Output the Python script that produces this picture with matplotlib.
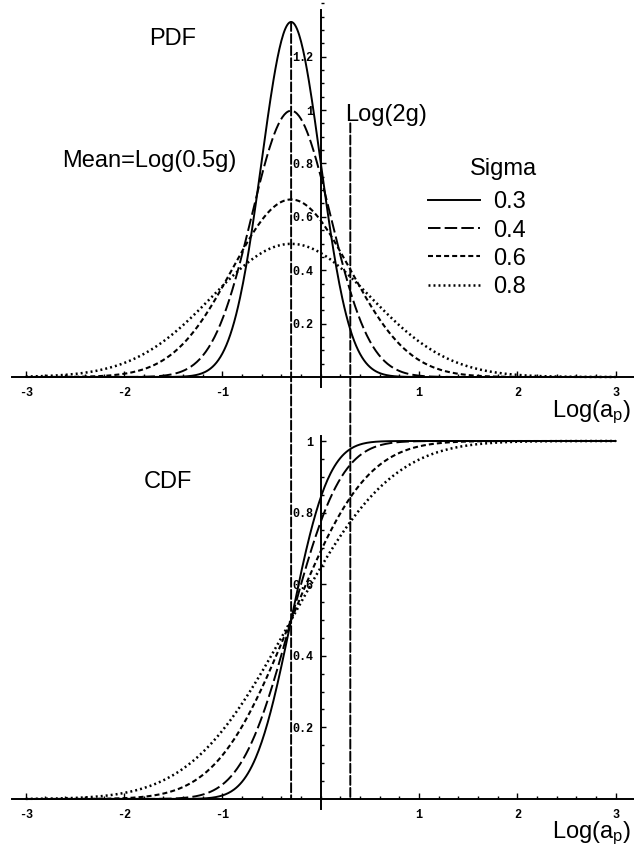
import math
import numpy as np
import matplotlib
matplotlib.use("Agg")
import matplotlib.pyplot as plt
from matplotlib.patches import ConnectionPatch

plt.rcParams['font.family'] = 'Liberation Sans'
plt.rcParams['mathtext.fontset'] = 'custom'
plt.rcParams['mathtext.rm'] = 'Liberation Sans'
plt.rcParams['mathtext.it'] = 'Liberation Sans'
plt.rcParams['lines.scale_dashes'] = False

# distribution parameters
mean_log = math.log10(0.5)     # Mean = Log(0.5g)
log_2g = math.log10(2.0)       # Log(2g) marker
log_2g_top = 0.95              # where the Log(2g) line starts in the PDF panel
sigmas = [0.3, 0.4, 0.6, 0.8]
sigma_labels = ['0.3', '0.4', '0.6', '0.8']
line_styles = ['-', (0, (9, 3)), (0, (3.6, 2.2)), (0, (1.4, 2.2))]
line_widths = [1.4, 1.4, 1.5, 1.8]

x_ticks = [-3, -2, -1, 1, 2, 3]
x_tick_labels = ['-3', '-2', '-1', '1', '2', '3']
pdf_ticks = [0.2, 0.4, 0.6, 0.8, 1.0, 1.2]
pdf_tick_labels = ['0.2', '0.4', '0.6', '0.8', '1', '1.2']
cdf_ticks = [0.2, 0.4, 0.6, 0.8, 1.0]
cdf_tick_labels = ['0.2', '0.4', '0.6', '0.8', '1']

x = np.linspace(-3, 3, 601)


def normal_pdf(v, m, s):
    return np.exp(-0.5 * ((v - m) / s) ** 2) / (s * math.sqrt(2 * math.pi))


def normal_cdf(v, m, s):
    return np.array([0.5 * (1 + math.erf((t - m) / (s * math.sqrt(2)))) for t in v])


def setup_axes(ax, ylim, ybounds, yticks, ylabels):
    ax.set_xlim(-3.2625, 3.1872)
    ax.set_ylim(*ylim)
    ax.patch.set_visible(False)
    for side in ['top', 'right']:
        ax.spines[side].set_visible(False)
    ax.spines['bottom'].set_position(('data', 0))
    ax.spines['left'].set_position(('data', 0))
    ax.spines['bottom'].set_bounds(-3.14, 3.19)
    ax.spines['left'].set_bounds(*ybounds)
    ax.spines['bottom'].set_linewidth(1.4)
    ax.spines['left'].set_linewidth(1.4)
    ax.set_xticks(x_ticks, labels=x_tick_labels)
    ax.set_xticks(np.arange(-3, 3.01, 0.2), minor=True)
    ax.set_yticks(yticks, labels=ylabels)
    ax.set_yticks(np.arange(0.05, ylim[1], 0.05), minor=True)
    ax.tick_params(axis='x', which='major', direction='in', length=4, width=1, pad=7)
    ax.tick_params(axis='x', which='minor', direction='in', length=2, width=1)
    ax.tick_params(axis='y', which='major', direction='in', length=3.5, width=1, pad=5.5)
    ax.tick_params(axis='y', which='minor', direction='in', length=2, width=1)
    for lbl in ax.get_xticklabels() + ax.get_yticklabels():
        lbl.set_fontfamily('Liberation Mono')
        lbl.set_fontweight('bold')
        lbl.set_fontsize(8.5)


fig = plt.figure(figsize=(6.34, 8.49), dpi=100)
ax1 = fig.add_axes([0, 1 - 430 / 849, 1, 430 / 849])
ax2 = fig.add_axes([0, 0, 1, 424 / 849])

# PDF panel
pdf_lines = []
for s, lab, ls, lw in zip(sigmas, sigma_labels, line_styles, line_widths):
    ln, = ax1.plot(x, normal_pdf(x, mean_log, s), color='black', lw=lw, linestyle=ls, label=lab)
    pdf_lines.append(ln)
setup_axes(ax1, (-0.1985, 1.412), (-0.037, 1.375), pdf_ticks, pdf_tick_labels)

ax1.text(-1.51, 1.243, 'PDF', fontsize=17, ha='center', va='baseline')
ax1.text(-2.63, 0.787, 'Mean=Log(0.5g)', fontsize=17, ha='left', va='baseline')
ax1.text(0.247, 0.959, 'Log(2g)', fontsize=17, ha='left', va='baseline')
ax1.text(1.519, 0.757, 'Sigma', fontsize=17, ha='left', va='baseline')
ax1.text(2.35, -0.15, r'Log(a$_{\rm p}$)', fontsize=17, ha='left', va='baseline')
ax1.legend(handles=pdf_lines, loc='upper left', bbox_to_anchor=(1.092, 0.695),
           bbox_transform=ax1.transData, frameon=False, fontsize=17,
           handlelength=2.2, handletextpad=0.55, labelspacing=0.26,
           borderpad=0, borderaxespad=0)

# CDF panel
for s, lab, ls, lw in zip(sigmas, sigma_labels, line_styles, line_widths):
    ax2.plot(x, normal_cdf(x, mean_log, s), color='black', lw=lw, linestyle=ls, label=lab)
setup_axes(ax2, (-0.1397, 1.0447), (-0.028, 1.014), cdf_ticks, cdf_tick_labels)

ax2.text(-1.55, 0.87, 'CDF', fontsize=17, ha='center', va='baseline')
ax2.text(2.35, -0.11, r'Log(a$_{\rm p}$)', fontsize=17, ha='left', va='baseline')

# vertical reference lines running through both panels
peak = normal_pdf(mean_log, mean_log, min(sigmas))
for xv, top in [(mean_log, peak), (log_2g, log_2g_top)]:
    con = ConnectionPatch(xyA=(xv, top), coordsA='data', axesA=ax1,
                          xyB=(xv, 0), coordsB='data', axesB=ax2,
                          shrinkA=0, shrinkB=0,
                          color='black', lw=1.4, linestyle=(0, (6.5, 2.2)))
    fig.add_artist(con)

plt.savefig('out.png', dpi=100)
plt.close()
